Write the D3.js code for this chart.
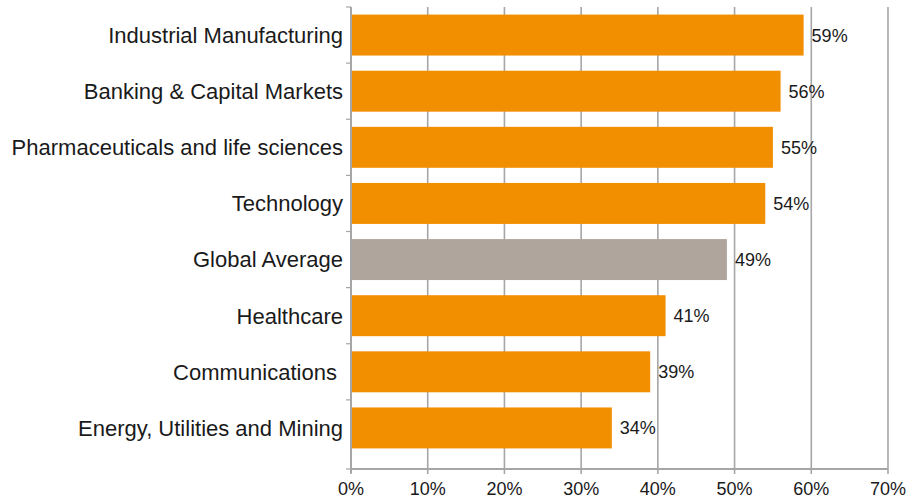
<!DOCTYPE html>
<html>
<head>
<meta charset="utf-8">
<script src="https://cdn.jsdelivr.net/npm/d3@7"></script>
<style>
  html, body { margin: 0; padding: 0; background: #fff; overflow: hidden; }
  svg { display: block; font-family: "Liberation Sans", Arial, Helvetica, sans-serif; }
  .cat-label { font-size: 22px; fill: #1a1a1a; }
  .value-label { font-size: 18px; fill: #1a1a1a; }
  .tick-label { font-size: 18px; fill: #1a1a1a; }
</style>
</head>
<body>
<div id="chart"></div>
<script>
// Share of respondents by industry, one horizontal bar per category.
// The "Global Average" row is drawn in grey, all others in orange.
const categories = [
  'Industrial Manufacturing',
  'Banking & Capital Markets',
  'Pharmaceuticals and life sciences',
  'Technology',
  'Global Average',
  'Healthcare',
  'Communications\u00a0',
  'Energy, Utilities and Mining',
];
const values = [59, 56, 55, 54, 49, 41, 39, 34];
const xTicks = [0, 10, 20, 30, 40, 50, 60, 70];
const highlight = 'Global Average';

const width = 922;
const height = 499;
const margin = { top: 7, right: 34, bottom: 30, left: 351 };
const innerWidth = width - margin.left - margin.right;
const innerHeight = height - margin.top - margin.bottom;

const ORANGE = '#f28f00';
const GREY = '#afa59c';
const GRID = '#a6a6a6';

const data = categories.map((c, i) => ({ category: c, value: values[i] }));

const svg = d3.select('#chart').append('svg')
  .attr('width', width).attr('height', height)
  .attr('viewBox', `0 0 ${width} ${height}`);
const g = svg.append('g').attr('transform', `translate(${margin.left},${margin.top})`);

const x = d3.scaleLinear().domain([0, 70]).range([0, innerWidth]);
// bars occupy slightly less than the full plot height, as in the source
const y = d3.scaleBand().domain(categories).range([0, 449]).paddingInner(0.27).paddingOuter(0.135);
const gap = y.step() * y.paddingInner() / 2;

// vertical gridlines
g.append('g')
  .selectAll('line')
  .data(xTicks.slice(1))
  .join('line')
  .attr('x1', (d) => x(d))
  .attr('x2', (d) => x(d))
  .attr('y1', 0)
  .attr('y2', innerHeight)
  .attr('stroke', GRID)
  .attr('stroke-width', 1.6);

// bars
g.append('g')
  .selectAll('rect')
  .data(data)
  .join('rect')
  .attr('x', x(0))
  .attr('y', (d) => y(d.category))
  .attr('width', (d) => x(d.value) - x(0))
  .attr('height', y.bandwidth())
  .attr('fill', (d) => (d.category === highlight ? GREY : ORANGE));

// value labels
g.append('g')
  .selectAll('text')
  .data(data)
  .join('text')
  .attr('class', 'value-label')
  .attr('x', (d) => x(d.value) + 8)
  .attr('y', (d) => y(d.category) + y.bandwidth() / 2)
  .attr('dy', '0.36em')
  .text((d) => `${d.value}%`);

// left axis: line, boundary ticks, category labels
const yAxis = g.append('g');
yAxis.append('line')
  .attr('x1', 0).attr('x2', 0)
  .attr('y1', 0).attr('y2', innerHeight + 4)
  .attr('stroke', GRID).attr('stroke-width', 2);
const boundaries = categories.map((c) => y(c) - gap).concat([innerHeight]);
yAxis.selectAll('line.tick')
  .data(boundaries)
  .join('line')
  .attr('class', 'tick')
  .attr('x1', -5).attr('x2', 0)
  .attr('y1', (d) => d).attr('y2', (d) => d)
  .attr('stroke', GRID).attr('stroke-width', 1.2);
yAxis.selectAll('text')
  .data(categories)
  .join('text')
  .attr('class', 'cat-label')
  .attr('x', -8)
  .attr('y', (d) => y(d) + y.bandwidth() / 2)
  .attr('dy', '0.36em')
  .attr('text-anchor', 'end')
  .text((d) => d);

// bottom axis
const xAxis = g.append('g').attr('transform', `translate(0,${innerHeight})`);
xAxis.append('line')
  .attr('x1', 0).attr('x2', innerWidth)
  .attr('stroke', GRID).attr('stroke-width', 2);
xAxis.selectAll('line.tick')
  .data(xTicks)
  .join('line')
  .attr('class', 'tick')
  .attr('x1', (d) => x(d)).attr('x2', (d) => x(d))
  .attr('y1', 0).attr('y2', 5)
  .attr('stroke', GRID).attr('stroke-width', 1.6);
xAxis.selectAll('text')
  .data(xTicks)
  .join('text')
  .attr('class', 'tick-label')
  .attr('x', (d) => x(d))
  .attr('y', 26)
  .attr('text-anchor', 'middle')
  .text((d) => `${d}%`);
</script>
</body>
</html>
